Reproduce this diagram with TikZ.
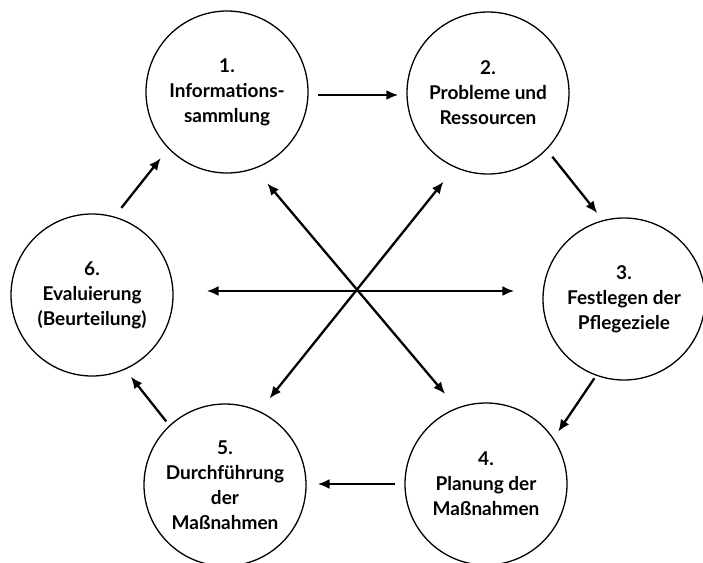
\documentclass[tikz,border=0pt]{standalone}
\usepackage{fontspec}
\setmainfont{Lato}
\usetikzlibrary{arrows.meta}

\begin{document}
\begin{tikzpicture}[x=1pt,y=-1pt,
  phase/.style={circle,draw,line width=1.3pt,minimum size=162pt,inner sep=0pt,
    align=center,font=\fontsize{19}{25}\selectfont\bfseries},
  arr/.style={line width=2.3pt,-{Latex[length=12pt,width=10pt]}},
  darr/.style={line width=2.3pt,{Latex[length=12pt,width=10pt]}-{Latex[length=12pt,width=10pt]}}]
\useasboundingbox (0,0) rectangle (703,562);
\node[phase] (n1) at (227,92) {1.\\Informations-\\sammlung};
\node[phase] (n2) at (488,93) {2.\\Probleme und\\Ressourcen};
\node[phase] (n3) at (624,299) {3.\\Festlegen der\\Pflegeziele};
\node[phase] (n4) at (486,484) {4.\\Planung der\\Maßnahmen};
\node[phase] (n5) at (225,485) {5.\\Durchführung\\der\\Maßnahmen};
\node[phase] (n6) at (92,295) {6.\\Evaluierung\\(Beurteilung)};

% Kreislauf
\draw[arr,shorten <=9pt,shorten >=8pt] ([yshift=-3pt]n1.east) -- ([yshift=-2pt]n2.west);
\draw[arr,shorten <=9pt,shorten >=9pt] (n2.-44) -- (n3.105);
\draw[arr,shorten <=3pt,shorten >=8pt] (n3.-110) -- (n4.34);
\draw[arr,shorten <=9pt,shorten >=11pt] (n4.west) -- (n5.east |- n4.west);
\draw[arr,shorten <=5pt,shorten >=9pt] (n5.133) -- (n6.-66);
\draw[arr,shorten <=11pt,shorten >=12pt] (n6.74) -- (n1.224);

% Querverbindungen
\draw[darr,shorten <=19pt,shorten >=18pt] (n1.-70) -- (n4.111);
\draw[darr,shorten <=18pt,shorten >=16pt] (n2.-114) -- (n5.65);
\draw[darr,shorten <=33pt,shorten >=28pt] ([yshift=4pt]n6.east) -- ([yshift=8pt]n3.west);
\end{tikzpicture}
\end{document}
